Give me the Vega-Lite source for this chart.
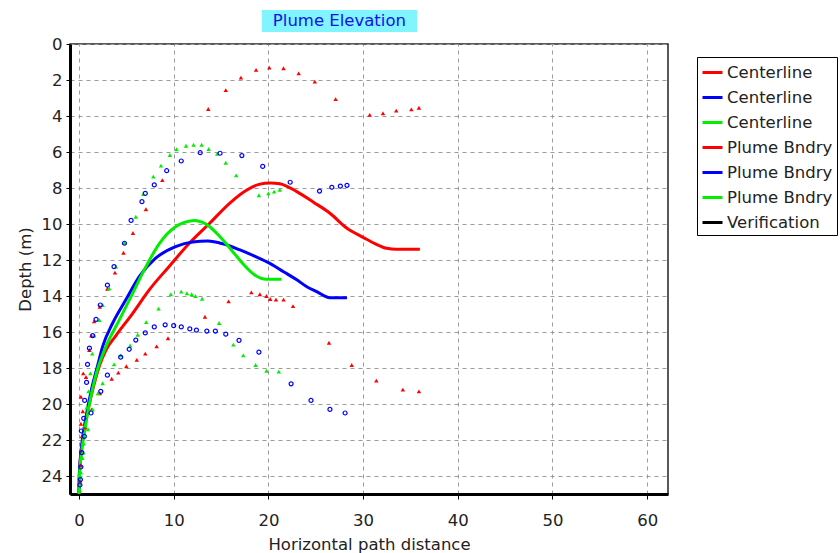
{
  "$schema": "https://vega.github.io/schema/vega-lite/v6.json",
  "width": 598,
  "height": 450,
  "autosize": "none",
  "padding": {"left": 70, "top": 44, "right": 172, "bottom": 59},
  "background": "white",
  "config": {
    "font": "DejaVu Sans",
    "view": {"stroke": "#222", "strokeWidth": 1.5}
  },
  "datasets": {
    "centerline": [
      {"series": "Centerline", "x": 0, "y": 25}, {"series": "Centerline", "x": 0.03, "y": 24}, {"series": "Centerline", "x": 0.15, "y": 23}, {"series": "Centerline", "x": 0.39, "y": 22}, {"series": "Centerline", "x": 0.7, "y": 21}, {"series": "Centerline", "x": 1.09, "y": 20}, {"series": "Centerline", "x": 1.55, "y": 19}, {"series": "Centerline", "x": 2.14, "y": 17.9}, {"series": "Centerline", "x": 2.85, "y": 17.0}, {"series": "Centerline", "x": 3.9, "y": 16.2}, {"series": "Centerline", "x": 5.67, "y": 14.96}, {"series": "Centerline", "x": 7.4, "y": 13.67}, {"series": "Centerline", "x": 9.5, "y": 12.37}, {"series": "Centerline", "x": 11.65, "y": 11.07}, {"series": "Centerline", "x": 13.8, "y": 9.96}, {"series": "Centerline", "x": 15.9, "y": 8.85}, {"series": "Centerline", "x": 17.6, "y": 8.15}, {"series": "Centerline", "x": 19.0, "y": 7.8}, {"series": "Centerline", "x": 20.2, "y": 7.72}, {"series": "Centerline", "x": 21.2, "y": 7.76}, {"series": "Centerline", "x": 23.0, "y": 8.2}, {"series": "Centerline", "x": 24.8, "y": 8.8}, {"series": "Centerline", "x": 26.5, "y": 9.4}, {"series": "Centerline", "x": 28.3, "y": 10.24}, {"series": "Centerline", "x": 30.0, "y": 10.74}, {"series": "Centerline", "x": 31.3, "y": 11.1}, {"series": "Centerline", "x": 32.5, "y": 11.35}, {"series": "Centerline", "x": 33.5, "y": 11.4}, {"series": "Centerline", "x": 36.0, "y": 11.4},
      {"series": "Centerline\u200b", "x": 0, "y": 25}, {"series": "Centerline\u200b", "x": 0.03, "y": 24}, {"series": "Centerline\u200b", "x": 0.15, "y": 23}, {"series": "Centerline\u200b", "x": 0.35, "y": 22}, {"series": "Centerline\u200b", "x": 0.65, "y": 21}, {"series": "Centerline\u200b", "x": 1.0, "y": 20}, {"series": "Centerline\u200b", "x": 1.4, "y": 19}, {"series": "Centerline\u200b", "x": 1.9, "y": 18}, {"series": "Centerline\u200b", "x": 2.5, "y": 16.8}, {"series": "Centerline\u200b", "x": 3.56, "y": 15.5}, {"series": "Centerline\u200b", "x": 4.96, "y": 14.2}, {"series": "Centerline\u200b", "x": 6.4, "y": 12.9}, {"series": "Centerline\u200b", "x": 8.1, "y": 11.9}, {"series": "Centerline\u200b", "x": 10.2, "y": 11.26}, {"series": "Centerline\u200b", "x": 12.0, "y": 11.0}, {"series": "Centerline\u200b", "x": 13.6, "y": 10.95}, {"series": "Centerline\u200b", "x": 15.2, "y": 11.1}, {"series": "Centerline\u200b", "x": 17.0, "y": 11.44}, {"series": "Centerline\u200b", "x": 18.6, "y": 11.8}, {"series": "Centerline\u200b", "x": 20.2, "y": 12.2}, {"series": "Centerline\u200b", "x": 21.6, "y": 12.65}, {"series": "Centerline\u200b", "x": 23.0, "y": 13.1}, {"series": "Centerline\u200b", "x": 24.1, "y": 13.5}, {"series": "Centerline\u200b", "x": 25.1, "y": 13.76}, {"series": "Centerline\u200b", "x": 26.5, "y": 14.1}, {"series": "Centerline\u200b", "x": 28.3, "y": 14.1},
      {"series": "Centerline\u200b\u200b", "x": 0, "y": 25}, {"series": "Centerline\u200b\u200b", "x": 0.05, "y": 24}, {"series": "Centerline\u200b\u200b", "x": 0.2, "y": 23}, {"series": "Centerline\u200b\u200b", "x": 0.45, "y": 22}, {"series": "Centerline\u200b\u200b", "x": 0.75, "y": 21}, {"series": "Centerline\u200b\u200b", "x": 1.1, "y": 20}, {"series": "Centerline\u200b\u200b", "x": 1.5, "y": 19}, {"series": "Centerline\u200b\u200b", "x": 2.0, "y": 18}, {"series": "Centerline\u200b\u200b", "x": 2.85, "y": 16.8}, {"series": "Centerline\u200b\u200b", "x": 4.26, "y": 15.33}, {"series": "Centerline\u200b\u200b", "x": 5.67, "y": 13.85}, {"series": "Centerline\u200b\u200b", "x": 7.07, "y": 12.37}, {"series": "Centerline\u200b\u200b", "x": 8.5, "y": 11.07}, {"series": "Centerline\u200b\u200b", "x": 10.2, "y": 10.15}, {"series": "Centerline\u200b\u200b", "x": 11.2, "y": 9.9}, {"series": "Centerline\u200b\u200b", "x": 12.2, "y": 9.8}, {"series": "Centerline\u200b\u200b", "x": 13.0, "y": 9.9}, {"series": "Centerline\u200b\u200b", "x": 13.8, "y": 10.15}, {"series": "Centerline\u200b\u200b", "x": 14.7, "y": 10.6}, {"series": "Centerline\u200b\u200b", "x": 15.5, "y": 11.07}, {"series": "Centerline\u200b\u200b", "x": 16.5, "y": 11.7}, {"series": "Centerline\u200b\u200b", "x": 17.6, "y": 12.37}, {"series": "Centerline\u200b\u200b", "x": 18.6, "y": 12.85}, {"series": "Centerline\u200b\u200b", "x": 19.8, "y": 13.07}, {"series": "Centerline\u200b\u200b", "x": 21.4, "y": 13.07}
    ],
    "boundary": [
      {"series": "Plume Bndry", "x": 0.1, "y": 24.3}, {"series": "Plume Bndry", "x": 0.15, "y": 23.4}, {"series": "Plume Bndry", "x": 0.2, "y": 22.6}, {"series": "Plume Bndry", "x": 0.3, "y": 21.8}, {"series": "Plume Bndry", "x": 0.2, "y": 21.1}, {"series": "Plume Bndry", "x": 0.4, "y": 20.4}, {"series": "Plume Bndry", "x": 0.2, "y": 19.6}, {"series": "Plume Bndry", "x": 0.74, "y": 18.5}, {"series": "Plume Bndry", "x": 0.45, "y": 18.3}, {"series": "Plume Bndry", "x": 1.09, "y": 17.0}, {"series": "Plume Bndry", "x": 1.3, "y": 16.2}, {"series": "Plume Bndry", "x": 1.6, "y": 15.4}, {"series": "Plume Bndry", "x": 2.2, "y": 14.6}, {"series": "Plume Bndry", "x": 3.0, "y": 13.6}, {"series": "Plume Bndry", "x": 3.8, "y": 12.7}, {"series": "Plume Bndry", "x": 4.7, "y": 11.6}, {"series": "Plume Bndry", "x": 5.7, "y": 10.5}, {"series": "Plume Bndry", "x": 7.07, "y": 9.18}, {"series": "Plume Bndry", "x": 8.8, "y": 7.56}, {"series": "Plume Bndry", "x": 13.65, "y": 3.61}, {"series": "Plume Bndry", "x": 15.5, "y": 2.56}, {"series": "Plume Bndry", "x": 17.1, "y": 1.87}, {"series": "Plume Bndry", "x": 18.7, "y": 1.44}, {"series": "Plume Bndry", "x": 20.1, "y": 1.31}, {"series": "Plume Bndry", "x": 21.6, "y": 1.35}, {"series": "Plume Bndry", "x": 23.2, "y": 1.63}, {"series": "Plume Bndry", "x": 24.9, "y": 2.09}, {"series": "Plume Bndry", "x": 27.1, "y": 3.06}, {"series": "Plume Bndry", "x": 30.7, "y": 3.94}, {"series": "Plume Bndry", "x": 32.1, "y": 3.85}, {"series": "Plume Bndry", "x": 33.5, "y": 3.7}, {"series": "Plume Bndry", "x": 35.1, "y": 3.63}, {"series": "Plume Bndry", "x": 35.9, "y": 3.54},
      {"series": "Plume Bndry", "x": 0.63, "y": 21.3}, {"series": "Plume Bndry", "x": 1.34, "y": 20.3}, {"series": "Plume Bndry", "x": 2.2, "y": 19.4}, {"series": "Plume Bndry", "x": 3.45, "y": 18.6}, {"series": "Plume Bndry", "x": 4.15, "y": 18.26}, {"series": "Plume Bndry", "x": 5.0, "y": 17.9}, {"series": "Plume Bndry", "x": 6.1, "y": 17.55}, {"series": "Plume Bndry", "x": 7.0, "y": 17.2}, {"series": "Plume Bndry", "x": 8.2, "y": 16.8}, {"series": "Plume Bndry", "x": 9.4, "y": 16.35}, {"series": "Plume Bndry", "x": 13.3, "y": 15.15}, {"series": "Plume Bndry", "x": 15.8, "y": 14.3}, {"series": "Plume Bndry", "x": 18.2, "y": 13.8}, {"series": "Plume Bndry", "x": 19.1, "y": 13.9}, {"series": "Plume Bndry", "x": 19.8, "y": 14.0}, {"series": "Plume Bndry", "x": 20.2, "y": 14.17}, {"series": "Plume Bndry", "x": 20.8, "y": 14.2}, {"series": "Plume Bndry", "x": 21.6, "y": 14.2}, {"series": "Plume Bndry", "x": 22.6, "y": 14.56}, {"series": "Plume Bndry", "x": 26.4, "y": 16.6}, {"series": "Plume Bndry", "x": 28.8, "y": 17.83}, {"series": "Plume Bndry", "x": 31.4, "y": 18.7}, {"series": "Plume Bndry", "x": 34.2, "y": 19.2}, {"series": "Plume Bndry", "x": 35.9, "y": 19.3},
      {"series": "Plume Bndry\u200b", "x": 0.1, "y": 24.5}, {"series": "Plume Bndry\u200b", "x": 0.2, "y": 23.5}, {"series": "Plume Bndry\u200b", "x": 0.3, "y": 22.7}, {"series": "Plume Bndry\u200b", "x": 0.25, "y": 21.5}, {"series": "Plume Bndry\u200b", "x": 0.5, "y": 20.8}, {"series": "Plume Bndry\u200b", "x": 0.6, "y": 19.8}, {"series": "Plume Bndry\u200b", "x": 0.8, "y": 18.8}, {"series": "Plume Bndry\u200b", "x": 0.9, "y": 17.8}, {"series": "Plume Bndry\u200b", "x": 1.1, "y": 16.9}, {"series": "Plume Bndry\u200b", "x": 1.45, "y": 16.2}, {"series": "Plume Bndry\u200b", "x": 1.8, "y": 15.3}, {"series": "Plume Bndry\u200b", "x": 2.25, "y": 14.5}, {"series": "Plume Bndry\u200b", "x": 3.0, "y": 13.4}, {"series": "Plume Bndry\u200b", "x": 3.7, "y": 12.37}, {"series": "Plume Bndry\u200b", "x": 4.8, "y": 11.07}, {"series": "Plume Bndry\u200b", "x": 5.5, "y": 9.8}, {"series": "Plume Bndry\u200b", "x": 6.65, "y": 8.76}, {"series": "Plume Bndry\u200b", "x": 7.0, "y": 8.3}, {"series": "Plume Bndry\u200b", "x": 7.95, "y": 7.83}, {"series": "Plume Bndry\u200b", "x": 9.26, "y": 7.04}, {"series": "Plume Bndry\u200b", "x": 10.8, "y": 6.5}, {"series": "Plume Bndry\u200b", "x": 12.8, "y": 6.04}, {"series": "Plume Bndry\u200b", "x": 14.9, "y": 6.07}, {"series": "Plume Bndry\u200b", "x": 17.2, "y": 6.2}, {"series": "Plume Bndry\u200b", "x": 19.4, "y": 6.8}, {"series": "Plume Bndry\u200b", "x": 22.3, "y": 7.68}, {"series": "Plume Bndry\u200b", "x": 25.4, "y": 8.17}, {"series": "Plume Bndry\u200b", "x": 26.7, "y": 7.96}, {"series": "Plume Bndry\u200b", "x": 27.6, "y": 7.9}, {"series": "Plume Bndry\u200b", "x": 28.3, "y": 7.85},
      {"series": "Plume Bndry\u200b", "x": 0.15, "y": 24.2}, {"series": "Plume Bndry\u200b", "x": 0.56, "y": 21.8}, {"series": "Plume Bndry\u200b", "x": 1.27, "y": 20.5}, {"series": "Plume Bndry\u200b", "x": 2.3, "y": 19.3}, {"series": "Plume Bndry\u200b", "x": 3.0, "y": 18.4}, {"series": "Plume Bndry\u200b", "x": 4.4, "y": 17.4}, {"series": "Plume Bndry\u200b", "x": 5.3, "y": 16.96}, {"series": "Plume Bndry\u200b", "x": 6.0, "y": 16.45}, {"series": "Plume Bndry\u200b", "x": 7.0, "y": 16.05}, {"series": "Plume Bndry\u200b", "x": 7.95, "y": 15.72}, {"series": "Plume Bndry\u200b", "x": 9.1, "y": 15.6}, {"series": "Plume Bndry\u200b", "x": 10.0, "y": 15.65}, {"series": "Plume Bndry\u200b", "x": 10.8, "y": 15.72}, {"series": "Plume Bndry\u200b", "x": 11.7, "y": 15.83}, {"series": "Plume Bndry\u200b", "x": 12.4, "y": 15.9}, {"series": "Plume Bndry\u200b", "x": 13.5, "y": 15.95}, {"series": "Plume Bndry\u200b", "x": 14.4, "y": 15.95}, {"series": "Plume Bndry\u200b", "x": 15.5, "y": 16.12}, {"series": "Plume Bndry\u200b", "x": 16.9, "y": 16.47}, {"series": "Plume Bndry\u200b", "x": 19.0, "y": 17.12}, {"series": "Plume Bndry\u200b", "x": 22.4, "y": 18.88}, {"series": "Plume Bndry\u200b", "x": 24.5, "y": 19.8}, {"series": "Plume Bndry\u200b", "x": 26.5, "y": 20.3}, {"series": "Plume Bndry\u200b", "x": 28.1, "y": 20.5},
      {"series": "Plume Bndry\u200b\u200b", "x": 0.1, "y": 24.8}, {"series": "Plume Bndry\u200b\u200b", "x": 0.2, "y": 23.8}, {"series": "Plume Bndry\u200b\u200b", "x": 0.35, "y": 23.0}, {"series": "Plume Bndry\u200b\u200b", "x": 0.5, "y": 22.2}, {"series": "Plume Bndry\u200b\u200b", "x": 0.6, "y": 21.2}, {"series": "Plume Bndry\u200b\u200b", "x": 0.8, "y": 20.2}, {"series": "Plume Bndry\u200b\u200b", "x": 1.0, "y": 19.3}, {"series": "Plume Bndry\u200b\u200b", "x": 1.2, "y": 18.3}, {"series": "Plume Bndry\u200b\u200b", "x": 1.4, "y": 17.2}, {"series": "Plume Bndry\u200b\u200b", "x": 1.6, "y": 16.2}, {"series": "Plume Bndry\u200b\u200b", "x": 2.15, "y": 15.33}, {"series": "Plume Bndry\u200b\u200b", "x": 2.5, "y": 14.5}, {"series": "Plume Bndry\u200b\u200b", "x": 3.2, "y": 13.57}, {"series": "Plume Bndry\u200b\u200b", "x": 3.9, "y": 12.37}, {"series": "Plume Bndry\u200b\u200b", "x": 4.8, "y": 11.04}, {"series": "Plume Bndry\u200b\u200b", "x": 6.0, "y": 9.6}, {"series": "Plume Bndry\u200b\u200b", "x": 6.8, "y": 8.33}, {"series": "Plume Bndry\u200b\u200b", "x": 7.85, "y": 7.37}, {"series": "Plume Bndry\u200b\u200b", "x": 8.66, "y": 6.76}, {"series": "Plume Bndry\u200b\u200b", "x": 9.6, "y": 6.17}, {"series": "Plume Bndry\u200b\u200b", "x": 10.3, "y": 5.85}, {"series": "Plume Bndry\u200b\u200b", "x": 11.3, "y": 5.65}, {"series": "Plume Bndry\u200b\u200b", "x": 12.1, "y": 5.6}, {"series": "Plume Bndry\u200b\u200b", "x": 12.95, "y": 5.6}, {"series": "Plume Bndry\u200b\u200b", "x": 13.7, "y": 5.83}, {"series": "Plume Bndry\u200b\u200b", "x": 14.6, "y": 6.1}, {"series": "Plume Bndry\u200b\u200b", "x": 15.5, "y": 6.6}, {"series": "Plume Bndry\u200b\u200b", "x": 16.6, "y": 7.3}, {"series": "Plume Bndry\u200b\u200b", "x": 19.0, "y": 8.4}, {"series": "Plume Bndry\u200b\u200b", "x": 20.0, "y": 8.3}, {"series": "Plume Bndry\u200b\u200b", "x": 20.6, "y": 8.2}, {"series": "Plume Bndry\u200b\u200b", "x": 21.2, "y": 8.1},
      {"series": "Plume Bndry\u200b\u200b", "x": 0.1, "y": 24.0}, {"series": "Plume Bndry\u200b\u200b", "x": 0.45, "y": 22.7}, {"series": "Plume Bndry\u200b\u200b", "x": 0.95, "y": 21.4}, {"series": "Plume Bndry\u200b\u200b", "x": 1.45, "y": 20.3}, {"series": "Plume Bndry\u200b\u200b", "x": 2.0, "y": 19.4}, {"series": "Plume Bndry\u200b\u200b", "x": 2.5, "y": 18.85}, {"series": "Plume Bndry\u200b\u200b", "x": 3.7, "y": 17.8}, {"series": "Plume Bndry\u200b\u200b", "x": 4.4, "y": 17.3}, {"series": "Plume Bndry\u200b\u200b", "x": 5.4, "y": 16.75}, {"series": "Plume Bndry\u200b\u200b", "x": 6.2, "y": 16.15}, {"series": "Plume Bndry\u200b\u200b", "x": 7.1, "y": 15.45}, {"series": "Plume Bndry\u200b\u200b", "x": 8.4, "y": 14.7}, {"series": "Plume Bndry\u200b\u200b", "x": 9.7, "y": 13.9}, {"series": "Plume Bndry\u200b\u200b", "x": 10.8, "y": 13.76}, {"series": "Plume Bndry\u200b\u200b", "x": 11.4, "y": 13.85}, {"series": "Plume Bndry\u200b\u200b", "x": 11.9, "y": 13.9}, {"series": "Plume Bndry\u200b\u200b", "x": 12.3, "y": 14.0}, {"series": "Plume Bndry\u200b\u200b", "x": 13.0, "y": 14.15}, {"series": "Plume Bndry\u200b\u200b", "x": 14.8, "y": 15.5}, {"series": "Plume Bndry\u200b\u200b", "x": 16.3, "y": 16.7}, {"series": "Plume Bndry\u200b\u200b", "x": 17.35, "y": 17.3}, {"series": "Plume Bndry\u200b\u200b", "x": 18.65, "y": 17.83}, {"series": "Plume Bndry\u200b\u200b", "x": 19.8, "y": 18.15}, {"series": "Plume Bndry\u200b\u200b", "x": 21.1, "y": 18.2}
    ],
    "heading": [
      {"title": "Plume Elevation"}
    ]
  },
  "layer": [
    {
      "data": {"name": "centerline"},
      "mark": {"type": "line", "strokeWidth": 3, "interpolate": "monotone"},
      "encoding": {
        "x": {
          "field": "x", "type": "quantitative",
          "scale": {"domain": [-0.95, 62.2], "nice": false, "zero": false},
          "axis": {
            "title": "Horizontal path distance",
            "values": [0, 10, 20, 30, 40, 50, 60], "tickCount": 20,
            "grid": true, "gridDash": [4, 4], "gridColor": "#9a9a9a", "gridWidth": 1,
            "domainColor": "#000", "domainWidth": 3,
            "tickColor": "#000", "tickSize": 5, "labelPadding": 13,
            "labelFlush": false, "labelOverlap": false, "labelFont": "DejaVu Sans", "labelFontSize": 16.5, "labelColor": "#222",
            "titleFont": "DejaVu Sans", "titleFontSize": 16.5, "titleColor": "#222", "titleFontWeight": "normal", "titlePadding": 8
          }
        },
        "y": {
          "field": "y", "type": "quantitative",
          "scale": {"domain": [0, 25], "reverse": true, "nice": false, "zero": false},
          "axis": {
            "title": "Depth (m)",
            "values": [0, 2, 4, 6, 8, 10, 12, 14, 16, 18, 20, 22, 24], "tickCount": 20,
            "grid": true, "gridDash": [4, 4], "gridColor": "#9a9a9a", "gridWidth": 1,
            "domainColor": "#000", "domainWidth": 3,
            "tickColor": "#000", "tickSize": 4, "labelPadding": 4,
            "labelFlush": false, "labelOverlap": false, "labelFont": "DejaVu Sans", "labelFontSize": 16.5, "labelColor": "#222",
            "titleFont": "DejaVu Sans", "titleFontSize": 16.5, "titleColor": "#222", "titleFontWeight": "normal", "titlePadding": 8
          }
        },
        "color": {
          "field": "series", "type": "nominal",
          "scale": {
            "domain": ["Centerline", "Centerline\u200b", "Centerline\u200b\u200b", "Plume Bndry", "Plume Bndry\u200b", "Plume Bndry\u200b\u200b", "Verification"],
            "range": ["#ff0000", "#0000ff", "#00ee00", "#ff0000", "#0000ff", "#00ee00", "#000000"]
          },
          "legend": {
            "orient": "none", "legendX": 627, "legendY": 13, "title": null,
            "labelFont": "DejaVu Sans", "labelFontSize": 16.5, "labelColor": "#222",
            "strokeColor": "#000", "fillColor": "white",
            "padding": 4, "rowPadding": 5, "labelOffset": 3,
            "symbolType": "stroke", "symbolSize": 400, "symbolStrokeWidth": 3
          }
        }
      }
    },
    {
      "data": {"name": "boundary"},
      "transform": [{"filter": {"field": "series", "oneOf": ["Plume Bndry", "Plume Bndry\u200b\u200b"]}}],
      "mark": {"type": "point", "shape": "triangle-up", "filled": true, "size": 20, "opacity": 1},
      "encoding": {
        "x": {"field": "x", "type": "quantitative"},
        "y": {"field": "y", "type": "quantitative"},
        "color": {"field": "series", "type": "nominal"}
      }
    },
    {
      "data": {"name": "boundary"},
      "transform": [{"filter": {"field": "series", "equal": "Plume Bndry\u200b"}}],
      "mark": {"type": "point", "shape": "circle", "filled": false, "size": 16, "strokeWidth": 1.2, "opacity": 1},
      "encoding": {
        "x": {"field": "x", "type": "quantitative"},
        "y": {"field": "y", "type": "quantitative"},
        "color": {"field": "series", "type": "nominal"}
      }
    },
    {
      "data": {"name": "heading"},
      "mark": {"type": "rect", "fill": "#80f4ff"},
      "encoding": {
        "x": {"datum": 19.3, "type": "quantitative"},
        "x2": {"datum": 35.7},
        "y": {"datum": -1.89, "type": "quantitative"},
        "y2": {"datum": -0.67}
      }
    },
    {
      "data": {"name": "heading"},
      "mark": {"type": "text", "font": "DejaVu Sans", "fontSize": 16.5, "color": "#1010ee", "align": "center", "baseline": "middle"},
      "encoding": {
        "x": {"datum": 27.5, "type": "quantitative"},
        "y": {"datum": -1.28, "type": "quantitative"},
        "text": {"field": "title", "type": "nominal"}
      }
    }
  ]
}
